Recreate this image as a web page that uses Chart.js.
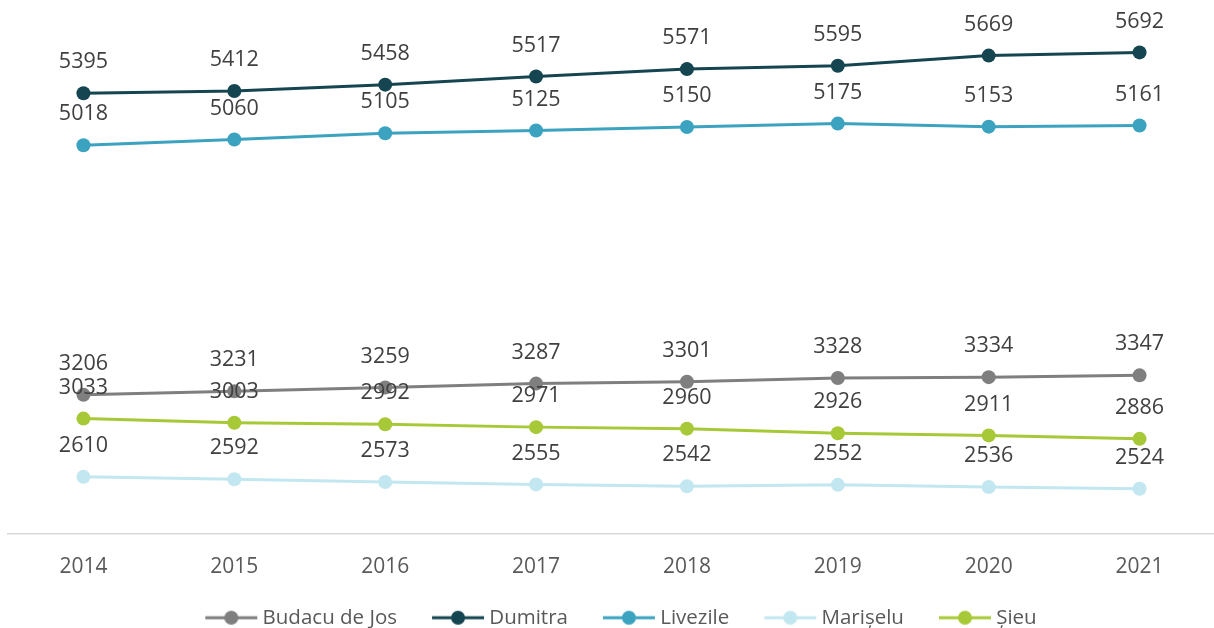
<!DOCTYPE html>
<html>
<head>
<meta charset="utf-8">
<script src="https://cdn.jsdelivr.net/npm/chart.js@4/dist/chart.umd.min.js"></script>
<style>
  html, body { margin: 0; padding: 0; background: #fff; overflow: hidden; }
  #wrap { width: 1222px; height: 628px; position: relative; }
</style>
</head>
<body>
<div id="wrap"><canvas id="chart"></canvas></div>
<script>
'use strict'

// data
const YEARS = ['2014', '2015', '2016', '2017', '2018', '2019', '2020', '2021'];
const BUDACU = [3206, 3231, 3259, 3287, 3301, 3328, 3334, 3347];
const DUMITRA = [5395, 5412, 5458, 5517, 5571, 5595, 5669, 5692];
const LIVEZILE = [5018, 5060, 5105, 5125, 5150, 5175, 5153, 5161];
const MARISELU = [2610, 2592, 2573, 2555, 2542, 2552, 2536, 2524];
const SIEU = [3033, 3003, 2992, 2971, 2960, 2926, 2911, 2886];

const FONT = '"Open Sans", "Liberation Sans", sans-serif';
const BOX = 81;   // legend box width, the mark sits at its right end

// little line + dot picture for the legend
function legendMark(color) {
    const c = document.createElement('canvas');
    c.width = BOX + 12; c.height = 18;
    const ctx = c.getContext('2d');
    const x0 = c.width - 54;
    ctx.strokeStyle = color;
    ctx.lineWidth = 3;
    ctx.beginPath();
    ctx.moveTo(x0 + 1, 9); ctx.lineTo(x0 + 53, 9);
    ctx.stroke();
    ctx.fillStyle = color;
    ctx.beginPath();
    ctx.arc(x0 + 27, 9, 7, 0, Math.PI * 2);
    ctx.fill();
    return c;
}

function series(label, data, color) {
    return {
        label: label,
        data: data,
        borderColor: color,
        backgroundColor: color,
        borderWidth: 3,
        pointRadius: 7,
        pointHoverRadius: 7,
        pointBorderWidth: 0,
        tension: 0,
        mark: legendMark(color)
    };
}

const valueLabels = {
    id: 'valueLabels',
    afterLayout(chart) {
        // nudge the legend row to where the original sits
        const lg = chart.legend;
        lg.left -= 11; lg.right -= 11;
        lg.top += 10; lg.bottom += 10;
    },
    afterDatasetsDraw(chart) {
        const ctx = chart.ctx;
        ctx.save();
        ctx.fillStyle = '#404040';
        ctx.font = '21.5px ' + FONT;
        ctx.textAlign = 'center';
        ctx.textBaseline = 'middle';
        chart.data.datasets.forEach((ds, i) => {
            chart.getDatasetMeta(i).data.forEach((pt, j) => {
                ctx.fillText(String(ds.data[j]), pt.x, pt.y - 31);
            });
        });
        ctx.restore();
    }
};

new Chart(document.getElementById('chart'), {
    type: 'line',
    data: {
        labels: YEARS,
        datasets: [
            series('Budacu de Jos', BUDACU, '#7f7f7f'),
            series('Dumitra', DUMITRA, '#144551'),
            series('Livezile', LIVEZILE, '#3ba3c0'),
            series('Marișelu', MARISELU, '#c2e7f0'),
            series('Șieu', SIEU, '#a8c937')
        ]
    },
    options: {
        responsive: true,
        maintainAspectRatio: false,
        animation: false,
        layout: { padding: { left: 8, right: 0, top: 10, bottom: 0 } },
        scales: {
            x: {
                offset: true,
                grid: { display: false, drawTicks: false },
                border: { display: true, color: '#d9d9d9', width: 1.5 },
                ticks: { color: '#595959', font: { family: FONT, size: 21 }, padding: 21 },
                afterFit(scale) { scale.height -= 4; }
            },
            y: { display: false, min: 2200, max: 6000 }
        },
        plugins: {
            tooltip: { enabled: false },
            legend: {
                position: 'bottom',
                labels: {
                    color: '#595959',
                    font: { family: FONT, size: 20.5 },
                    usePointStyle: true,
                    pointStyleWidth: BOX,
                    padding: 1,
                    generateLabels(chart) {
                        return chart.data.datasets.map((ds, i) => ({
                            text: ds.label,
                            fontColor: '#595959',
                            pointStyle: ds.mark,
                            strokeStyle: ds.borderColor,
                            fillStyle: ds.borderColor,
                            lineWidth: 0,
                            datasetIndex: i,
                            hidden: false
                        }));
                    }
                }
            }
        }
    },
    plugins: [valueLabels]
});
</script>
</body>
</html>
